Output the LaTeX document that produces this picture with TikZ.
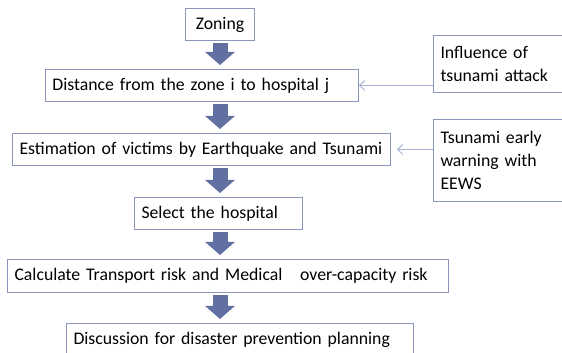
\documentclass[tikz,border=0pt]{standalone}
\usepackage{fontspec}
\setmainfont{Carlito}
\usetikzlibrary{arrows.meta}
\definecolor{boxline}{rgb}{0.55,0.59,0.74}
\definecolor{linkline}{rgb}{0.66,0.70,0.82}
\definecolor{flowblue}{rgb}{0.38,0.44,0.63}

\begin{document}
\begin{tikzpicture}[x=0.75pt, y=-0.75pt,
	stepbox/.style={draw=boxline, line width=0.75pt, fill=white, anchor=north west, inner xsep=5.25pt, inner ysep=0pt, align=left, font=\fontsize{13.3}{17.5}\selectfont},
	flowarrow/.style={draw=flowblue, line width=11.25pt, shorten <=1.5pt, shorten >=3pt, -{Triangle[length=9.75pt, width=21.75pt]}},
	link/.style={draw=linkline, line width=0.75pt, -{Straight Barb[length=3.75pt, width=7.5pt]}}]
	\useasboundingbox (0,0) rectangle (562,353);

	% Main chain of steps
	\node[stepbox, align=center, text width=41.25pt, minimum height=24pt] (zoning) at (185,8) {Zoning};
	\node[stepbox, text width=224.25pt, minimum height=24pt] (dist) at (45,69) {\mbox{Distance from the zone i to hospital j}};
	\node[stepbox, text width=273pt, minimum height=24pt] (est) at (12,133) {\mbox{Estimation of victims by Earthquake and Tsunami}};
	\node[stepbox, text width=115.5pt, minimum height=24pt] (sel) at (134,197) {\mbox{Select the hospital}};
	\node[stepbox, text width=320.25pt, minimum height=24.75pt] (calc) at (7,259) {\mbox{Calculate Transport risk and Medical\ \ \ over-capacity risk}};
	\node[stepbox, text width=249.75pt, minimum height=24.75pt] (disc) at (66,323) {\mbox{Discussion for disaster prevention planning}};

	% Side inputs
	\node[stepbox, text width=99.75pt, minimum height=42.75pt] (infl) at (433,35) {Influence of\\tsunami attack};
	\node[stepbox, text width=99.75pt, minimum height=61.5pt] (tsu) at (433,119) {Tsunami early\\warning with\\EEWS};

	% Block arrows down the chain
	\draw[flowarrow] (zoning.south) -- (dist.north -| zoning.south);
	\draw[flowarrow] (dist.south -| zoning.south) -- (est.north -| zoning.south);
	\draw[flowarrow] (est.south -| zoning.south) -- (sel.north -| zoning.south);
	\draw[flowarrow] (sel.south -| zoning.south) -- (calc.north -| zoning.south);
	\draw[flowarrow] (calc.south -| zoning.south) -- (disc.north -| zoning.south);

	% Thin links from the side inputs
	\draw[link] (infl.west |- dist.east) -- (dist.east);
	\draw[link, shorten >=4.5pt] (tsu.west |- est.east) -- (est.east);
\end{tikzpicture}
\end{document}
